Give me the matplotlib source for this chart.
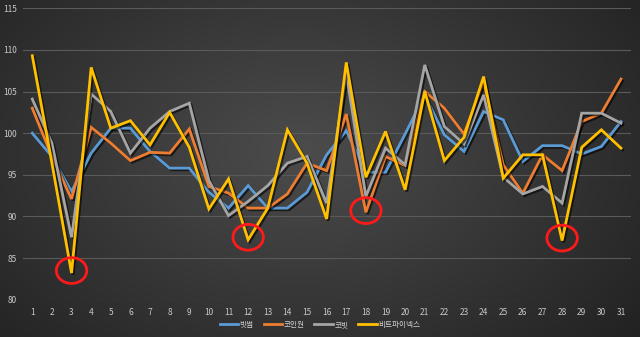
import numpy as np
import matplotlib
matplotlib.use("Agg")
import matplotlib.pyplot as plt
import matplotlib.patheffects as pe
from matplotlib.patches import Ellipse

plt.rcParams['font.family'] = ['Noto Sans CJK KR', 'DejaVu Sans']

days = list(range(1, 32))
bithumb = [100, 97.2, 93.0, 97.6, 100.6, 100.6, 97.8, 95.8, 95.8, 92.9,
           91.0, 93.7, 91.0, 91.0, 92.9, 97.4, 100.3, 95.3, 95.3, 99.9,
           104.6, 99.8, 97.8, 102.6, 101.6, 96.6, 98.5, 98.5, 97.5, 98.4, 101.4]
coinone = [103, 97.2, 92.1, 100.7, 98.8, 96.7, 97.7, 97.6, 100.5, 93.6,
           92.8, 91.0, 91.0, 92.7, 96.4, 95.5, 102.3, 90.5, 97.2, 96.1,
           105.0, 103.0, 99.9, 106.2, 96.2, 92.8, 97.4, 95.5, 101.4, 102.4, 106.5]
korbit = [104.1, 98.8, 87.5, 104.7, 102.6, 97.6, 100.6, 102.6, 103.6, 94.3,
          90.1, 91.8, 93.7, 96.4, 97.2, 91.6, 107.2, 92.4, 98.2, 96.2,
          108.2, 100.8, 98.7, 104.6, 94.7, 92.7, 93.6, 91.6, 102.4, 102.4, 101.2]
bitfinex = [109.3, 96.4, 83.2, 107.9, 100.6, 101.5, 98.6, 102.5, 98.3, 90.9,
            94.5, 87.2, 91.0, 100.4, 96.4, 89.7, 108.5, 94.7, 100.2, 93.2,
            105.0, 96.7, 99.5, 106.8, 94.6, 97.4, 97.4, 87.1, 98.3, 100.4, 98.2]
series_names = ['빗썸', '코인원', '코빗', '비트파이넥스']
series_colors = ['#5B9BD5', '#ED7D31', '#A5A5A5', '#FFC000']
y_ticks = [80, 85, 90, 95, 100, 105, 110, 115]
circled_days = [3, 12, 18, 28]
circled_vals = [83.5, 87.5, 90.7, 87.4]

W, H = 640, 337
fig = plt.figure(figsize=(W / 100, H / 100), dpi=100)

# background radial gradient
bg = fig.add_axes([0, 0, 1, 1])
xx, yy = np.meshgrid(np.linspace(0, 1, 320), np.linspace(0, 1, 170))
d = np.sqrt(((xx - 0.47) / 0.75) ** 2 + ((yy - 0.55) / 0.95) ** 2)
d = np.clip(d, 0, 1)
light = np.array([0x4c, 0x4c, 0x4c]) / 255
dark = np.array([0x1e, 0x1e, 0x1e]) / 255
img = light[None, None, :] * (1 - d[..., None]) + dark[None, None, :] * d[..., None]
bg.imshow(img, extent=[0, 1, 0, 1], aspect='auto', origin='lower')
bg.axis('off')

ax = fig.add_axes([22.5 / W, 1 - 299.7 / H, (630.8 - 22.5) / W, (299.7 - 8.3) / H])
ax.set_facecolor('none')
ax.patch.set_alpha(0)

shadow = [pe.SimpleLineShadow(offset=(1.2, -1.2), shadow_color='black', alpha=0.6),
          pe.Normal()]
for vals, name, col in zip([bithumb, coinone, korbit, bitfinex], series_names, series_colors):
    ax.plot(days, vals, color=col, lw=2.0, label=name, path_effects=shadow,
            solid_joinstyle='miter')

for dday, v in zip(circled_days, circled_vals):
    ax.add_patch(Ellipse((dday, v), width=1.55, height=3.1, fill=False,
                         edgecolor='#FF1A1A', lw=2.0, zorder=5))

ax.set_xlim(0.5, 31.5)
ax.set_ylim(80, 115)
ax.set_yticks(y_ticks)
ax.set_xticks(days)
ax.grid(axis='y', color='#5a5a5a', lw=0.8)
ax.set_axisbelow(True)
for s in ax.spines.values():
    s.set_visible(False)
ax.tick_params(axis='both', length=0, labelsize=6, colors='#c8c8c8')
ax.tick_params(axis='y', pad=4)
ax.tick_params(axis='x', pad=6)

leg = fig.legend(loc='center', bbox_to_anchor=(0.50, 1 - 325 / H), ncol=4,
                 frameon=False, fontsize=5.5, handlelength=2.4, columnspacing=1.3,
                 handletextpad=0.2, labelcolor='#d0d0d0')
for line in leg.get_lines():
    line.set_path_effects([])

fig.savefig('out.png', dpi=100)
